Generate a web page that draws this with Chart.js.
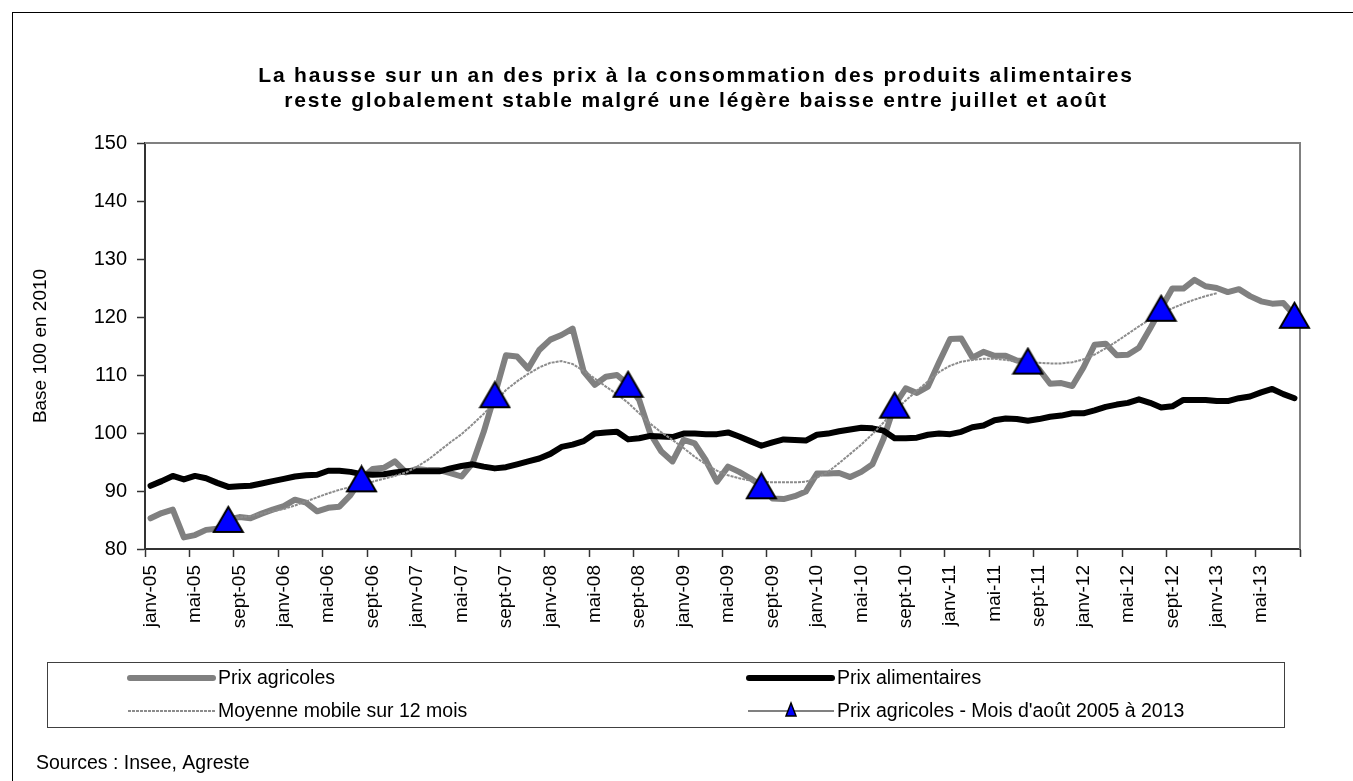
<!DOCTYPE html>
<html lang="fr">
<head>
<meta charset="utf-8">
<title>Prix agricoles et prix alimentaires</title>
<script src="https://cdn.jsdelivr.net/npm/chart.js@4.4.1/dist/chart.umd.min.js"></script>
<style>
    html, body { margin: 0; padding: 0; background: #fff; }
    #graphique { display: block; }
</style>
</head>
<body>
<canvas id="graphique" width="1353" height="781"></canvas>
<script>
// Axe des abscisses : janv-05 ... août-13 (104 mois)
const mois = ["janv", "févr", "mars", "avr", "mai", "juin", "juil", "août", "sept", "oct", "nov", "déc"];
const annees = ["05", "06", "07", "08", "09", "10", "11", "12", "13"];
const nbMois = 104;
const categories = [];
annees.forEach( (a) => mois.forEach( (m) => {
    if (categories.length < nbMois) categories.push(m + "-" + a);
}));

// Axe des ordonnées
const ticksY = [80, 90, 100, 110, 120, 130, 140, 150];

// Séries (base 100 en 2010)
const prixAgricoles = [
    85.3, 86.2, 86.8, 82.0, 82.4, 83.3, 83.5, 85.1, 85.5, 85.3, 86.1, 86.8,
    87.4, 88.5, 88.0, 86.5, 87.1, 87.3, 89.3, 92.1, 93.8, 94.0, 95.1, 93.2,
    93.8, 93.6, 93.6, 93.1, 92.5, 94.8, 100.2, 106.6, 113.4, 113.2, 111.1, 114.3,
    116.1, 116.9, 118.0, 110.6, 108.3, 109.7, 110.0, 108.4, 105.7, 99.9, 96.8, 95.1,
    98.8, 98.2, 95.3, 91.6, 94.2, 93.3, 92.2, 90.9, 88.7, 88.6, 89.1, 89.9,
    93.0, 93.0, 93.1, 92.4, 93.3, 94.6, 99.0, 104.8, 107.7, 106.9, 108.0, 112.2,
    116.2, 116.3, 113.0, 114.0, 113.3, 113.3, 112.5, 112.4, 111.0, 108.5, 108.6, 108.1,
    111.3, 115.2, 115.4, 113.4, 113.5, 114.7, 118.0, 121.5, 124.9, 124.9, 126.4, 125.3,
    125.0, 124.3, 124.8, 123.6, 122.7, 122.3, 122.4, 120.3
];

const prixAlimentaires = [
    90.9, 91.7, 92.6, 92.0, 92.6, 92.2, 91.4, 90.7, 90.8, 90.9, 91.3, 91.7,
    92.1, 92.5, 92.7, 92.8, 93.5, 93.5, 93.3, 92.9, 92.8, 92.9, 93.2, 93.4,
    93.4, 93.4, 93.4, 93.9, 94.3, 94.6, 94.2, 93.9, 94.1, 94.6, 95.1, 95.6,
    96.4, 97.6, 98.0, 98.6, 99.9, 100.1, 100.2, 98.9, 99.1, 99.5, 99.4, 99.3,
    99.9, 99.9, 99.8, 99.8, 100.1, 99.4, 98.6, 97.8, 98.4, 98.9, 98.8, 98.7,
    99.7, 99.9, 100.3, 100.6, 100.9, 100.8, 100.4, 99.1, 99.1, 99.2, 99.7, 99.9,
    99.8, 100.2, 101.0, 101.3, 102.2, 102.5, 102.4, 102.1, 102.4, 102.8, 103.0, 103.4,
    103.4, 103.9, 104.5, 104.9, 105.2, 105.8, 105.2, 104.4, 104.6, 105.7, 105.7, 105.7,
    105.5, 105.5, 106.0, 106.3, 107.0, 107.6, 106.7, 106.0
];

const moyenneMobile = [
    null, null, null, null, null, null, null, 85.2, 85.4, 85.7, 86.1, 86.5,
    86.9, 87.5, 88.2, 88.9, 89.6, 90.2, 90.7, 91.2, 91.6, 92.1, 92.6, 93.2,
    94.2, 95.4, 96.9, 98.4, 99.8, 101.5, 103.3, 105.3, 107.4, 108.9, 110.2, 111.3,
    112.1, 112.4, 111.9, 110.7, 109.4, 108.0, 106.7, 105.2, 103.4, 101.6, 100.1, 98.8,
    97.4, 95.9, 94.6, 93.5, 92.7, 92.2, 91.8, 91.6, 91.5, 91.5, 91.5, 91.6,
    92.3, 93.3, 94.8, 96.4, 98.0, 99.8, 101.8, 103.9, 105.6, 107.3, 108.9, 110.5,
    111.6, 112.3, 112.6, 112.8, 112.8, 112.6, 112.3, 112.1, 112.1, 112.0, 112.0, 112.2,
    112.7, 113.5, 114.6, 115.8, 117.1, 118.4, 119.6, 120.6, 121.5, 122.3, 123.0, 123.6,
    124.1, null, null, null, null, null, null, null
];

// Prix agricoles du mois d'août, 2005 à 2013
const prixAout = [85.1, 92.1, 106.6, 108.4, 90.9, 104.8, 112.4, 121.5, 120.3];

const titre = [
    "La hausse sur un an des prix à la consommation des produits alimentaires",
    "reste globalement stable malgré une légère baisse entre juillet et août"
];
const sources = "Sources : Insee, Agreste";

// placement des triangles sur les mois d'août
let k = 0;
const donneesAout = categories.map( (c) => c.startsWith("août") ? prixAout[k++] : null);

const police = "'Liberation Sans', Arial, sans-serif";
Chart.defaults.font.family = police;
Chart.defaults.color = "#000";

// marqueur triangle centré sur sa boîte (comme Excel)
function triangle(w, h) {
    const c = document.createElement("canvas");
    c.width = w + 4;
    c.height = h + 4;
    const g = c.getContext("2d");
    g.beginPath();
    g.moveTo(c.width / 2, 2);
    g.lineTo(w + 2, h + 2);
    g.lineTo(2, h + 2);
    g.closePath();
    g.fillStyle = "#0000ff";
    g.fill();
    g.lineWidth = 2;
    g.strokeStyle = "#000";
    g.stroke();
    return c;
}
const marqueur = triangle(29, 25);

const habillage = {
    id: "habillage",
    beforeDatasetsDraw(chart) {
        const ctx = chart.ctx;
        const { left, right, top, bottom } = chart.chartArea;
        ctx.save();
        ctx.strokeStyle = "#808080";
        ctx.lineWidth = 2;
        ctx.beginPath();
        ctx.moveTo(left, top);
        ctx.lineTo(right, top);
        ctx.lineTo(right, bottom);
        ctx.stroke();
        ctx.restore();
    },
    afterDraw(chart) {
        const ctx = chart.ctx;
        ctx.save();

        // cadre extérieur
        ctx.strokeStyle = "#000";
        ctx.lineWidth = 1;
        ctx.strokeRect(12.5, 12.5, 1400, 800);

        // titre
        ctx.fillStyle = "#000";
        ctx.font = "bold 21px " + police;
        ctx.letterSpacing = "1.8px";
        ctx.textAlign = "center";
        ctx.textBaseline = "alphabetic";
        ctx.fillText(titre[0], 696, 82);
        ctx.fillText(titre[1], 696, 107);
        ctx.letterSpacing = "0px";

        // légende
        ctx.strokeStyle = "#404040";
        ctx.lineWidth = 1;
        ctx.strokeRect(47.5, 662.5, 1237, 65);

        ctx.lineCap = "round";
        ctx.strokeStyle = "#808080";
        ctx.lineWidth = 6;
        ctx.beginPath(); ctx.moveTo(130, 678); ctx.lineTo(213, 678); ctx.stroke();

        ctx.strokeStyle = "#000";
        ctx.beginPath(); ctx.moveTo(749, 678); ctx.lineTo(832, 678); ctx.stroke();

        ctx.lineCap = "butt";
        ctx.strokeStyle = "#8c8c8c";
        ctx.lineWidth = 2;
        ctx.setLineDash([3, 1]);
        ctx.beginPath(); ctx.moveTo(128, 711); ctx.lineTo(215, 711); ctx.stroke();
        ctx.setLineDash([]);

        ctx.strokeStyle = "#808080";
        ctx.beginPath(); ctx.moveTo(748, 711); ctx.lineTo(834, 711); ctx.stroke();
        ctx.beginPath();
        ctx.moveTo(791, 703); ctx.lineTo(796, 716); ctx.lineTo(786, 716); ctx.closePath();
        ctx.fillStyle = "#0000ff";
        ctx.fill();
        ctx.strokeStyle = "#000";
        ctx.lineWidth = 1.5;
        ctx.stroke();

        ctx.fillStyle = "#000";
        ctx.font = "19.5px " + police;
        ctx.textAlign = "left";
        ctx.textBaseline = "middle";
        ctx.fillText("Prix agricoles", 218, 679);
        ctx.fillText("Prix alimentaires", 837, 679);
        ctx.fillText("Moyenne mobile sur 12 mois", 218, 712);
        ctx.fillText("Prix agricoles - Mois d'août 2005 à 2013", 837, 712);

        // sources
        ctx.fillText(sources, 36, 764);
        ctx.restore();
    }
};

new Chart(document.getElementById("graphique"), {
    type: "line",
    data: {
        labels: categories,
        datasets: [{
            label: "Prix agricoles - Mois d'août 2005 à 2013",
            data: donneesAout,
            showLine: false,
            pointStyle: marqueur,
            pointRadius: 15,
            clip: false,
        }, {
            label: "Moyenne mobile sur 12 mois",
            data: moyenneMobile,
            borderColor: "#8c8c8c",
            borderWidth: 2,
            borderDash: [3, 1],
            pointRadius: 0,
            spanGaps: false,
        }, {
            label: "Prix alimentaires",
            data: prixAlimentaires,
            borderColor: "#000",
            borderWidth: 6,
            borderJoinStyle: "round",
            borderCapStyle: "round",
            pointRadius: 0,
        }, {
            label: "Prix agricoles",
            data: prixAgricoles,
            borderColor: "#808080",
            borderWidth: 6,
            borderJoinStyle: "round",
            borderCapStyle: "round",
            pointRadius: 0,
        }, ],
    },
    options: {
        responsive: false,
        animation: false,
        events: [],
        layout: {
            padding: { left: 0, top: 143, right: 53, bottom: 0 }
        },
        plugins: {
            legend: { display: false },
            title: { display: false },
            tooltip: { enabled: false },
        },
        scales: {
            x: {
                type: "category",
                offset: true,
                grid: {
                    offset: true,
                    drawOnChartArea: false,
                    drawTicks: true,
                    tickLength: 8,
                    tickWidth: 1.5,
                    tickColor: (c) => (c.index === undefined || c.index % 4 === 0) ? "#333" : "rgba(0,0,0,0)",
                },
                border: { display: true, color: "#333", width: 2 },
                ticks: {
                    autoSkip: false,
                    minRotation: 90,
                    maxRotation: 90,
                    padding: 8,
                    color: "#000",
                    font: { size: 19 },
                    callback: (v, i) => i % 4 === 0 ? categories[i] : "",
                },
                afterFit: (s) => { s.height = 232; },
            },
            y: {
                min: ticksY[0],
                max: ticksY[ticksY.length - 1],
                afterBuildTicks: (s) => { s.ticks = ticksY.map( (v) => ({ value: v })); },
                grid: {
                    drawOnChartArea: false,
                    drawTicks: true,
                    tickLength: 8,
                    tickWidth: 1.5,
                    tickColor: "#333",
                },
                border: { display: true, color: "#333", width: 2 },
                ticks: {
                    padding: 10,
                    color: "#000",
                    font: { size: 20 },
                },
                title: {
                    display: true,
                    text: "Base 100 en 2010",
                    font: { size: 19 },
                    color: "#000",
                    padding: { top: 29, bottom: 0 },
                },
                afterFit: (s) => { s.width = 145; },
            },
        },
    },
    plugins: [habillage],
});
</script>
</body>
</html>
